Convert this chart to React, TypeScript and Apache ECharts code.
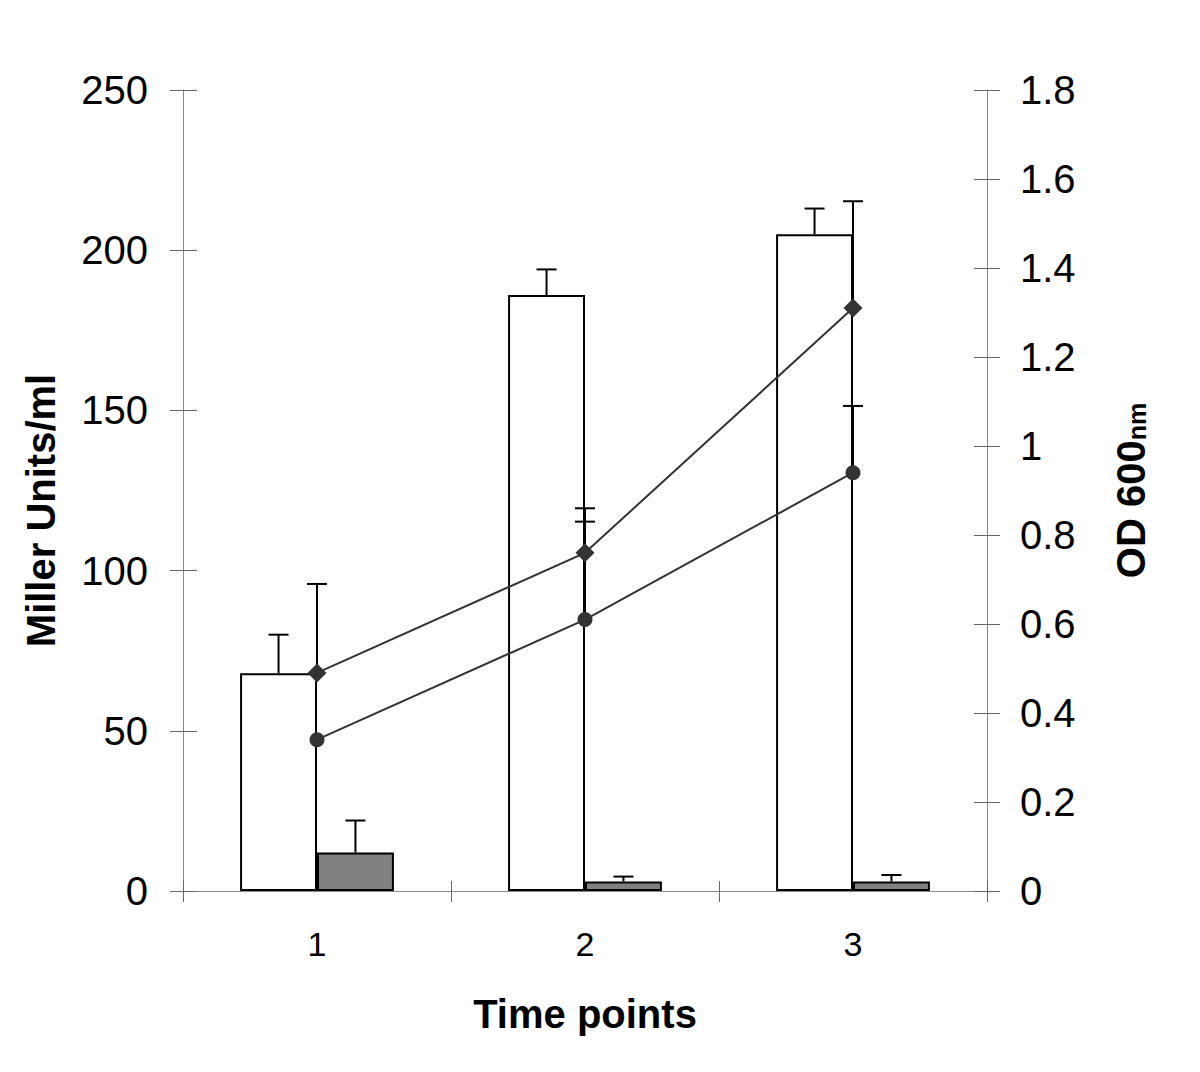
import React, { useEffect, useRef } from "react";
import * as echarts from "echarts";

const categories = ["1", "2", "3"];
const whiteBars = [68, 186, 205];
const whiteErr = [12, 8, 8];
const grayBars = [12, 3, 3];
const grayErr = [10, 1.5, 2];
const diamondOD = [0.49, 0.76, 1.31];
const diamondErr = [0.2, 0.1, 0.24];
const circleOD = [0.34, 0.61, 0.94];
const circleErr = [0, 0.22, 0.15];
const leftTicks = { min: 0, max: 250, interval: 50 };
const rightTicks = { min: 0, max: 1.8, interval: 0.2 };

const BAR_FRAC = 0.287;
const FONT = "Liberation Sans, Arial, sans-serif";

function barErrRender(offsetSign: number) {
  return (params: any, api: any) => {
    const idx = api.value(0);
    const v = api.value(1);
    const e = api.value(2);
    if (!e) return null;
    const bw = api.size([1, 0])[0] * BAR_FRAC;
    const p0 = api.coord([idx, v]);
    const p1 = api.coord([idx, v + e]);
    const x = p0[0] + (offsetSign * bw) / 2;
    const cap = 10;
    const style = { stroke: "#000", lineWidth: 2 };
    return {
      type: "group",
      children: [
        { type: "line", shape: { x1: x, y1: p0[1], x2: x, y2: p1[1] }, style },
        { type: "line", shape: { x1: x - cap, y1: p1[1], x2: x + cap, y2: p1[1] }, style },
      ],
    };
  };
}

function lineErrRender(params: any, api: any) {
  const idx = api.value(0);
  const v = api.value(1);
  const e = api.value(2);
  if (!e) return null;
  const p0 = api.coord([idx, v]);
  const p1 = api.coord([idx, v + e]);
  const cap = 10;
  const style = { stroke: "#000", lineWidth: 2 };
  return {
    type: "group",
    children: [
      { type: "line", shape: { x1: p0[0], y1: p0[1], x2: p0[0], y2: p1[1] }, style },
      { type: "line", shape: { x1: p0[0] - cap, y1: p1[1], x2: p0[0] + cap, y2: p1[1] }, style },
    ],
  };
}

export default function App() {
  const ref = useRef<HTMLDivElement>(null);
  useEffect(() => {
    const chart = echarts.init(ref.current!, undefined, { renderer: "svg" });
    const axisLine = { show: true, lineStyle: { color: "#8a8a8a", width: 1 } };
    const tickStyle = { color: "#666", width: 1 };
    const option: any = {
      animation: false,
      backgroundColor: "#fff",
      grid: { left: 183, right: 213, top: 90, bottom: 181 },
      xAxis: [
        {
          type: "category",
          data: categories,
          position: "bottom",
          axisLine: { ...axisLine, onZero: false },
          axisTick: { show: true, length: 11, lineStyle: tickStyle },
          axisLabel: { color: "#000", fontSize: 34, fontFamily: FONT, margin: 36 },
          name: "Time points",
          nameLocation: "middle",
          nameGap: 103,
          nameTextStyle: { color: "#000", fontSize: 40, fontWeight: "bold", fontFamily: FONT, verticalAlign: "top" },
        },
        {
          type: "category",
          data: categories,
          position: "bottom",
          axisLine: { show: false, onZero: false },
          axisTick: { show: true, inside: true, length: 10, lineStyle: tickStyle },
          axisLabel: { show: false },
        },
      ],
      yAxis: [
        {
          type: "value",
          position: "left",
          ...leftTicks,
          axisLine,
          axisTick: { show: true, length: 13, lineStyle: tickStyle },
          splitLine: { show: false },
          axisLabel: { color: "#000", fontSize: 40, fontFamily: FONT, margin: 35 },
          name: "Miller Units/ml",
          nameLocation: "middle",
          nameRotate: 90,
          nameGap: 122,
          nameTextStyle: { color: "#000", fontSize: 40, fontWeight: "bold", fontFamily: FONT, padding: [0, 40, 0, 0] },
        },
        {
          type: "value",
          position: "right",
          ...rightTicks,
          axisLine,
          axisTick: { show: true, length: 13, lineStyle: tickStyle },
          splitLine: { show: false },
          axisLabel: { color: "#000", fontSize: 40, fontFamily: FONT, margin: 33 },
          name: "{a|OD 600}{b|nm}",
          nameLocation: "middle",
          nameRotate: 90,
          nameGap: 124,
          nameTextStyle: {
            color: "#000",
            fontFamily: FONT,
            rich: {
              a: { fontSize: 40, fontWeight: "bold", fontFamily: FONT, color: "#000", verticalAlign: "bottom" },
              b: { fontSize: 25, fontWeight: "bold", fontFamily: FONT, color: "#000", verticalAlign: "bottom", padding: [0, 0, 2, 0] },
            },
          },
        },
        {
          type: "value",
          position: "left",
          ...leftTicks,
          axisLine: { show: false },
          axisTick: { show: true, inside: true, length: 14, lineStyle: tickStyle },
          splitLine: { show: false },
          axisLabel: { show: false },
        },
        {
          type: "value",
          position: "right",
          ...rightTicks,
          axisLine: { show: false },
          axisTick: { show: true, inside: true, length: 13, lineStyle: tickStyle },
          splitLine: { show: false },
          axisLabel: { show: false },
        },
      ],
      series: [
        {
          type: "bar",
          xAxisIndex: 0,
          yAxisIndex: 0,
          data: whiteBars,
          barWidth: BAR_FRAC * 100 + "%",
          barGap: "0%",
          itemStyle: { color: "#fff", borderColor: "#000", borderWidth: 2 },
          z: 2,
        },
        {
          type: "bar",
          xAxisIndex: 0,
          yAxisIndex: 0,
          data: grayBars,
          barWidth: BAR_FRAC * 100 + "%",
          barGap: "0%",
          itemStyle: { color: "#808080", borderColor: "#000", borderWidth: 2 },
          z: 2,
        },
        {
          type: "custom",
          xAxisIndex: 0,
          yAxisIndex: 0,
          renderItem: barErrRender(-1),
          data: whiteBars.map((v, i) => [i, v, whiteErr[i]]),
          z: 3,
        },
        {
          type: "custom",
          xAxisIndex: 0,
          yAxisIndex: 0,
          renderItem: barErrRender(1),
          data: grayBars.map((v, i) => [i, v, grayErr[i]]),
          z: 3,
        },
        {
          type: "custom",
          xAxisIndex: 0,
          yAxisIndex: 1,
          renderItem: lineErrRender,
          data: diamondOD.map((v, i) => [i, v, diamondErr[i]]),
          z: 4,
        },
        {
          type: "custom",
          xAxisIndex: 0,
          yAxisIndex: 1,
          renderItem: lineErrRender,
          data: circleOD.map((v, i) => [i, v, circleErr[i]]),
          z: 4,
        },
        {
          type: "line",
          xAxisIndex: 0,
          yAxisIndex: 1,
          data: diamondOD,
          symbol: "diamond",
          symbolSize: 19,
          lineStyle: { color: "#333", width: 2 },
          itemStyle: { color: "#333" },
          z: 5,
        },
        {
          type: "line",
          xAxisIndex: 0,
          yAxisIndex: 1,
          data: circleOD,
          symbol: "circle",
          symbolSize: 15,
          lineStyle: { color: "#333", width: 2 },
          itemStyle: { color: "#333" },
          z: 5,
        },
      ],
    };
    chart.setOption(option);
    return () => chart.dispose();
  }, []);
  return (
    <div
      ref={ref}
      style={{ position: "fixed", left: 0, top: 0, width: 1200, height: 1072, background: "#fff" }}
    />
  );
}
